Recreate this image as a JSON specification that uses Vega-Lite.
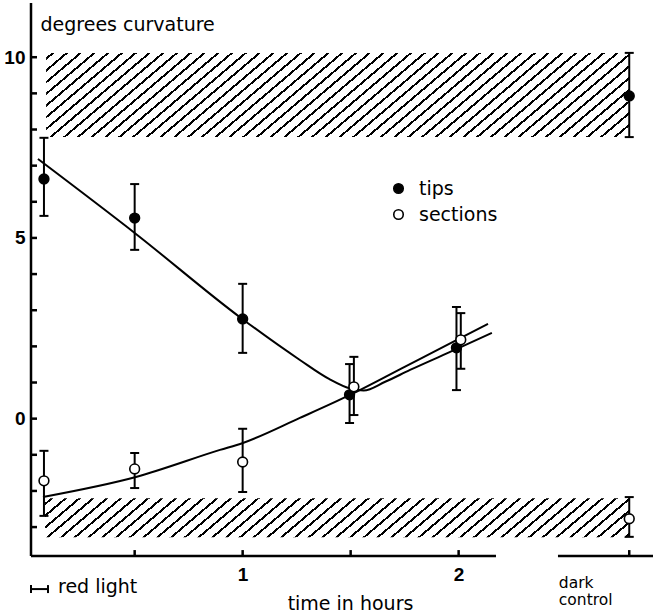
{
  "$schema": "https://vega.github.io/schema/vega-lite/v6.json",
  "width": 622,
  "height": 553,
  "autosize": {"type": "none"},
  "padding": {"left": 31, "top": 3, "right": 0, "bottom": 58},
  "background": "white",
  "config": {"view": {"stroke": null}, "font": "DejaVu Sans"},
  "datasets": {
    "bands": [
      {"band": "upper", "x1": 0.09, "x2": 2.79, "y1": 7.79, "y2": 10.12},
      {"band": "lower", "x1": 0.085, "x2": 2.79, "y1": -3.28, "y2": -2.2}
    ],
    "curves": [
      {"series": "tips", "t": 0.052, "v": 7.185},
      {"series": "tips", "t": 0.506, "v": 5.11},
      {"series": "tips", "t": 0.992, "v": 2.786},
      {"series": "tips", "t": 1.265, "v": 1.624},
      {"series": "tips", "t": 1.4, "v": 1.1},
      {"series": "tips", "t": 1.5, "v": 0.83},
      {"series": "tips", "t": 1.56, "v": 0.78},
      {"series": "tips", "t": 1.66, "v": 1.02},
      {"series": "tips", "t": 1.775, "v": 1.348},
      {"series": "tips", "t": 1.992, "v": 1.929},
      {"series": "tips", "t": 2.154, "v": 2.371},
      {"series": "sections", "t": 0.0755, "v": -2.165},
      {"series": "sections", "t": 0.506, "v": -1.612},
      {"series": "sections", "t": 0.895, "v": -0.865},
      {"series": "sections", "t": 1.001, "v": -0.672},
      {"series": "sections", "t": 1.265, "v": 0.02},
      {"series": "sections", "t": 1.497, "v": 0.656},
      {"series": "sections", "t": 1.75, "v": 1.434},
      {"series": "sections", "t": 1.992, "v": 2.178},
      {"series": "sections", "t": 2.136, "v": 2.62}
    ],
    "points": [
      {"series": "tips", "t": 0.08, "v": 6.63, "lo": 5.61, "hi": 7.77},
      {"series": "tips", "t": 0.5, "v": 5.55, "lo": 4.67, "hi": 6.49},
      {"series": "tips", "t": 1.0, "v": 2.76, "lo": 1.82, "hi": 3.73},
      {"series": "tips", "t": 1.495, "v": 0.66, "lo": -0.12, "hi": 1.51},
      {"series": "tips", "t": 1.99, "v": 1.96, "lo": 0.79, "hi": 3.09},
      {"series": "tips", "t": 2.79, "v": 8.93, "lo": 7.79, "hi": 10.12},
      {"series": "sections", "t": 0.08, "v": -1.72, "lo": -2.69, "hi": -0.89},
      {"series": "sections", "t": 0.5, "v": -1.39, "lo": -1.92, "hi": -0.95},
      {"series": "sections", "t": 1.0, "v": -1.2, "lo": -2.03, "hi": -0.28},
      {"series": "sections", "t": 1.515, "v": 0.88, "lo": 0.1, "hi": 1.71},
      {"series": "sections", "t": 2.01, "v": 2.18, "lo": 1.38, "hi": 2.92},
      {"series": "sections", "t": 2.79, "v": -2.77, "lo": -3.27, "hi": -2.17}
    ],
    "axisSegments": [
      {"from": 0.02, "to": 2.173},
      {"from": 2.46, "to": 2.9}
    ],
    "yAxisLine": [{"t": 0.02, "from": -3.8, "to": 11.5}],
    "yTicks": [{"v": -3}, {"v": -2}, {"v": -1}, {"v": 0}, {"v": 1}, {"v": 2}, {"v": 3}, {"v": 4}, {"v": 5}, {"v": 6}, {"v": 7}, {"v": 8}, {"v": 9}, {"v": 10}],
    "xTicks": [{"t": 0.5}, {"t": 1}, {"t": 1.5}, {"t": 2}, {"t": 2.79}],
    "redLight": [{"start": 0.02, "end": 0.0986, "v": -4.715}],
    "notes": [
      {"kind": "red", "label": "red  light", "t": 0.145, "v": -4.82},
      {"kind": "dark", "label": ["dark", "control"], "t": 2.464, "v": -4.68}
    ]
  },
  "layer": [
    {
      "data": {"name": "bands"},
      "transform": [{"filter": "datum.band == 'upper'"}],
      "mark": {
        "type": "rect",
        "stroke": null,
        "fill": {
          "gradient": "linear", "x1": 0, "y1": 0, "x2": 1.137, "y2": 0.1931,
          "stops": [
            {"offset": 0, "color": "#fff"},
            {"offset": 0.0080, "color": "#fff"}, {"offset": 0.0080, "color": "#000"}, {"offset": 0.0125, "color": "#000"}, {"offset": 0.0125, "color": "#fff"},
            {"offset": 0.0282, "color": "#fff"}, {"offset": 0.0282, "color": "#000"}, {"offset": 0.0327, "color": "#000"}, {"offset": 0.0327, "color": "#fff"},
            {"offset": 0.0484, "color": "#fff"}, {"offset": 0.0484, "color": "#000"}, {"offset": 0.0529, "color": "#000"}, {"offset": 0.0529, "color": "#fff"},
            {"offset": 0.0685, "color": "#fff"}, {"offset": 0.0685, "color": "#000"}, {"offset": 0.0730, "color": "#000"}, {"offset": 0.0730, "color": "#fff"},
            {"offset": 0.0887, "color": "#fff"}, {"offset": 0.0887, "color": "#000"}, {"offset": 0.0932, "color": "#000"}, {"offset": 0.0932, "color": "#fff"},
            {"offset": 0.1089, "color": "#fff"}, {"offset": 0.1089, "color": "#000"}, {"offset": 0.1134, "color": "#000"}, {"offset": 0.1134, "color": "#fff"},
            {"offset": 0.1291, "color": "#fff"}, {"offset": 0.1291, "color": "#000"}, {"offset": 0.1336, "color": "#000"}, {"offset": 0.1336, "color": "#fff"},
            {"offset": 0.1493, "color": "#fff"}, {"offset": 0.1493, "color": "#000"}, {"offset": 0.1538, "color": "#000"}, {"offset": 0.1538, "color": "#fff"},
            {"offset": 0.1694, "color": "#fff"}, {"offset": 0.1694, "color": "#000"}, {"offset": 0.1739, "color": "#000"}, {"offset": 0.1739, "color": "#fff"},
            {"offset": 0.1896, "color": "#fff"}, {"offset": 0.1896, "color": "#000"}, {"offset": 0.1941, "color": "#000"}, {"offset": 0.1941, "color": "#fff"},
            {"offset": 0.2098, "color": "#fff"}, {"offset": 0.2098, "color": "#000"}, {"offset": 0.2143, "color": "#000"}, {"offset": 0.2143, "color": "#fff"},
            {"offset": 0.2300, "color": "#fff"}, {"offset": 0.2300, "color": "#000"}, {"offset": 0.2345, "color": "#000"}, {"offset": 0.2345, "color": "#fff"},
            {"offset": 0.2502, "color": "#fff"}, {"offset": 0.2502, "color": "#000"}, {"offset": 0.2547, "color": "#000"}, {"offset": 0.2547, "color": "#fff"},
            {"offset": 0.2703, "color": "#fff"}, {"offset": 0.2703, "color": "#000"}, {"offset": 0.2748, "color": "#000"}, {"offset": 0.2748, "color": "#fff"},
            {"offset": 0.2905, "color": "#fff"}, {"offset": 0.2905, "color": "#000"}, {"offset": 0.2950, "color": "#000"}, {"offset": 0.2950, "color": "#fff"},
            {"offset": 0.3107, "color": "#fff"}, {"offset": 0.3107, "color": "#000"}, {"offset": 0.3152, "color": "#000"}, {"offset": 0.3152, "color": "#fff"},
            {"offset": 0.3309, "color": "#fff"}, {"offset": 0.3309, "color": "#000"}, {"offset": 0.3354, "color": "#000"}, {"offset": 0.3354, "color": "#fff"},
            {"offset": 0.3511, "color": "#fff"}, {"offset": 0.3511, "color": "#000"}, {"offset": 0.3556, "color": "#000"}, {"offset": 0.3556, "color": "#fff"},
            {"offset": 0.3712, "color": "#fff"}, {"offset": 0.3712, "color": "#000"}, {"offset": 0.3757, "color": "#000"}, {"offset": 0.3757, "color": "#fff"},
            {"offset": 0.3914, "color": "#fff"}, {"offset": 0.3914, "color": "#000"}, {"offset": 0.3959, "color": "#000"}, {"offset": 0.3959, "color": "#fff"},
            {"offset": 0.4116, "color": "#fff"}, {"offset": 0.4116, "color": "#000"}, {"offset": 0.4161, "color": "#000"}, {"offset": 0.4161, "color": "#fff"},
            {"offset": 0.4318, "color": "#fff"}, {"offset": 0.4318, "color": "#000"}, {"offset": 0.4363, "color": "#000"}, {"offset": 0.4363, "color": "#fff"},
            {"offset": 0.4520, "color": "#fff"}, {"offset": 0.4520, "color": "#000"}, {"offset": 0.4565, "color": "#000"}, {"offset": 0.4565, "color": "#fff"},
            {"offset": 0.4721, "color": "#fff"}, {"offset": 0.4721, "color": "#000"}, {"offset": 0.4766, "color": "#000"}, {"offset": 0.4766, "color": "#fff"},
            {"offset": 0.4923, "color": "#fff"}, {"offset": 0.4923, "color": "#000"}, {"offset": 0.4968, "color": "#000"}, {"offset": 0.4968, "color": "#fff"},
            {"offset": 0.5125, "color": "#fff"}, {"offset": 0.5125, "color": "#000"}, {"offset": 0.5170, "color": "#000"}, {"offset": 0.5170, "color": "#fff"},
            {"offset": 0.5327, "color": "#fff"}, {"offset": 0.5327, "color": "#000"}, {"offset": 0.5372, "color": "#000"}, {"offset": 0.5372, "color": "#fff"},
            {"offset": 0.5529, "color": "#fff"}, {"offset": 0.5529, "color": "#000"}, {"offset": 0.5574, "color": "#000"}, {"offset": 0.5574, "color": "#fff"},
            {"offset": 0.5730, "color": "#fff"}, {"offset": 0.5730, "color": "#000"}, {"offset": 0.5775, "color": "#000"}, {"offset": 0.5775, "color": "#fff"},
            {"offset": 0.5932, "color": "#fff"}, {"offset": 0.5932, "color": "#000"}, {"offset": 0.5977, "color": "#000"}, {"offset": 0.5977, "color": "#fff"},
            {"offset": 0.6134, "color": "#fff"}, {"offset": 0.6134, "color": "#000"}, {"offset": 0.6179, "color": "#000"}, {"offset": 0.6179, "color": "#fff"},
            {"offset": 0.6336, "color": "#fff"}, {"offset": 0.6336, "color": "#000"}, {"offset": 0.6381, "color": "#000"}, {"offset": 0.6381, "color": "#fff"},
            {"offset": 0.6538, "color": "#fff"}, {"offset": 0.6538, "color": "#000"}, {"offset": 0.6583, "color": "#000"}, {"offset": 0.6583, "color": "#fff"},
            {"offset": 0.6739, "color": "#fff"}, {"offset": 0.6739, "color": "#000"}, {"offset": 0.6784, "color": "#000"}, {"offset": 0.6784, "color": "#fff"},
            {"offset": 0.6941, "color": "#fff"}, {"offset": 0.6941, "color": "#000"}, {"offset": 0.6986, "color": "#000"}, {"offset": 0.6986, "color": "#fff"},
            {"offset": 0.7143, "color": "#fff"}, {"offset": 0.7143, "color": "#000"}, {"offset": 0.7188, "color": "#000"}, {"offset": 0.7188, "color": "#fff"},
            {"offset": 0.7345, "color": "#fff"}, {"offset": 0.7345, "color": "#000"}, {"offset": 0.7390, "color": "#000"}, {"offset": 0.7390, "color": "#fff"},
            {"offset": 0.7547, "color": "#fff"}, {"offset": 0.7547, "color": "#000"}, {"offset": 0.7592, "color": "#000"}, {"offset": 0.7592, "color": "#fff"},
            {"offset": 0.7748, "color": "#fff"}, {"offset": 0.7748, "color": "#000"}, {"offset": 0.7793, "color": "#000"}, {"offset": 0.7793, "color": "#fff"},
            {"offset": 0.7950, "color": "#fff"}, {"offset": 0.7950, "color": "#000"}, {"offset": 0.7995, "color": "#000"}, {"offset": 0.7995, "color": "#fff"},
            {"offset": 0.8152, "color": "#fff"}, {"offset": 0.8152, "color": "#000"}, {"offset": 0.8197, "color": "#000"}, {"offset": 0.8197, "color": "#fff"},
            {"offset": 0.8354, "color": "#fff"}, {"offset": 0.8354, "color": "#000"}, {"offset": 0.8399, "color": "#000"}, {"offset": 0.8399, "color": "#fff"},
            {"offset": 0.8556, "color": "#fff"}, {"offset": 0.8556, "color": "#000"}, {"offset": 0.8601, "color": "#000"}, {"offset": 0.8601, "color": "#fff"},
            {"offset": 0.8757, "color": "#fff"}, {"offset": 0.8757, "color": "#000"}, {"offset": 0.8802, "color": "#000"}, {"offset": 0.8802, "color": "#fff"},
            {"offset": 0.8959, "color": "#fff"}, {"offset": 0.8959, "color": "#000"}, {"offset": 0.9004, "color": "#000"}, {"offset": 0.9004, "color": "#fff"},
            {"offset": 0.9161, "color": "#fff"}, {"offset": 0.9161, "color": "#000"}, {"offset": 0.9206, "color": "#000"}, {"offset": 0.9206, "color": "#fff"},
            {"offset": 0.9363, "color": "#fff"}, {"offset": 0.9363, "color": "#000"}, {"offset": 0.9408, "color": "#000"}, {"offset": 0.9408, "color": "#fff"},
            {"offset": 0.9565, "color": "#fff"}, {"offset": 0.9565, "color": "#000"}, {"offset": 0.9610, "color": "#000"}, {"offset": 0.9610, "color": "#fff"},
            {"offset": 0.9766, "color": "#fff"}, {"offset": 0.9766, "color": "#000"}, {"offset": 0.9811, "color": "#000"}, {"offset": 0.9811, "color": "#fff"},
            {"offset": 1, "color": "#fff"}
          ]
        }
      },
      "encoding": {
        "x": {
          "field": "x1", "type": "quantitative",
          "scale": {"domain": [0.02, 2.9], "nice": false, "zero": false},
          "axis": {
            "orient": "bottom", "domain": false, "grid": false,
            "values": [0.5, 1, 1.5, 2, 2.79],
            "ticks": false, "tickSize": 0,
            "labelExpr": "datum.value == 1 ? '1' : datum.value == 2 ? '2' : ''",
            "labelOverlap": false, "labelFlush": false,
            "labelFont": "Liberation Sans", "labelFontWeight": 700, "labelFontSize": 19, "labelColor": "black",
            "labelPadding": 9,
            "title": "time  in  hours", "titleFont": "DejaVu Sans", "titleFontSize": 19, "titleFontWeight": "normal",
            "titleColor": "black", "titleX": 319, "titleY": 53, "titleAlign": "center", "titleBaseline": "alphabetic"
          }
        },
        "x2": {"field": "x2"},
        "y": {
          "field": "y1", "type": "quantitative",
          "scale": {"domain": [-3.8, 11.5], "nice": false, "zero": false},
          "axis": {
            "orient": "left", "grid": false, "domain": false,
            "values": [0, 5, 10],
            "ticks": false, "tickSize": 0,
            "labelOverlap": false, "labelFlush": false,
            "labelFont": "Liberation Sans", "labelFontWeight": 700, "labelFontSize": 19, "labelColor": "black",
            "labelPadding": 6,
            "title": "degrees  curvature", "titleFont": "DejaVu Sans", "titleFontSize": 19, "titleFontWeight": "normal",
            "titleColor": "black", "titleAngle": 0, "titleX": 9, "titleY": 27, "titleAlign": "left", "titleBaseline": "alphabetic"
          }
        },
        "y2": {"field": "y2"}
      }
    },
    {
      "data": {"name": "bands"},
      "transform": [{"filter": "datum.band == 'lower'"}],
      "mark": {
        "type": "rect",
        "stroke": null,
        "fill": {
          "gradient": "linear", "x1": 0, "y1": 0, "x2": 1.1604, "y2": 0.0911,
          "stops": [
            {"offset": 0, "color": "#fff"},
            {"offset": 0.0080, "color": "#fff"}, {"offset": 0.0080, "color": "#000"}, {"offset": 0.0125, "color": "#000"}, {"offset": 0.0125, "color": "#fff"},
            {"offset": 0.0282, "color": "#fff"}, {"offset": 0.0282, "color": "#000"}, {"offset": 0.0327, "color": "#000"}, {"offset": 0.0327, "color": "#fff"},
            {"offset": 0.0484, "color": "#fff"}, {"offset": 0.0484, "color": "#000"}, {"offset": 0.0529, "color": "#000"}, {"offset": 0.0529, "color": "#fff"},
            {"offset": 0.0685, "color": "#fff"}, {"offset": 0.0685, "color": "#000"}, {"offset": 0.0730, "color": "#000"}, {"offset": 0.0730, "color": "#fff"},
            {"offset": 0.0887, "color": "#fff"}, {"offset": 0.0887, "color": "#000"}, {"offset": 0.0932, "color": "#000"}, {"offset": 0.0932, "color": "#fff"},
            {"offset": 0.1089, "color": "#fff"}, {"offset": 0.1089, "color": "#000"}, {"offset": 0.1134, "color": "#000"}, {"offset": 0.1134, "color": "#fff"},
            {"offset": 0.1291, "color": "#fff"}, {"offset": 0.1291, "color": "#000"}, {"offset": 0.1336, "color": "#000"}, {"offset": 0.1336, "color": "#fff"},
            {"offset": 0.1493, "color": "#fff"}, {"offset": 0.1493, "color": "#000"}, {"offset": 0.1538, "color": "#000"}, {"offset": 0.1538, "color": "#fff"},
            {"offset": 0.1694, "color": "#fff"}, {"offset": 0.1694, "color": "#000"}, {"offset": 0.1739, "color": "#000"}, {"offset": 0.1739, "color": "#fff"},
            {"offset": 0.1896, "color": "#fff"}, {"offset": 0.1896, "color": "#000"}, {"offset": 0.1941, "color": "#000"}, {"offset": 0.1941, "color": "#fff"},
            {"offset": 0.2098, "color": "#fff"}, {"offset": 0.2098, "color": "#000"}, {"offset": 0.2143, "color": "#000"}, {"offset": 0.2143, "color": "#fff"},
            {"offset": 0.2300, "color": "#fff"}, {"offset": 0.2300, "color": "#000"}, {"offset": 0.2345, "color": "#000"}, {"offset": 0.2345, "color": "#fff"},
            {"offset": 0.2502, "color": "#fff"}, {"offset": 0.2502, "color": "#000"}, {"offset": 0.2547, "color": "#000"}, {"offset": 0.2547, "color": "#fff"},
            {"offset": 0.2703, "color": "#fff"}, {"offset": 0.2703, "color": "#000"}, {"offset": 0.2748, "color": "#000"}, {"offset": 0.2748, "color": "#fff"},
            {"offset": 0.2905, "color": "#fff"}, {"offset": 0.2905, "color": "#000"}, {"offset": 0.2950, "color": "#000"}, {"offset": 0.2950, "color": "#fff"},
            {"offset": 0.3107, "color": "#fff"}, {"offset": 0.3107, "color": "#000"}, {"offset": 0.3152, "color": "#000"}, {"offset": 0.3152, "color": "#fff"},
            {"offset": 0.3309, "color": "#fff"}, {"offset": 0.3309, "color": "#000"}, {"offset": 0.3354, "color": "#000"}, {"offset": 0.3354, "color": "#fff"},
            {"offset": 0.3511, "color": "#fff"}, {"offset": 0.3511, "color": "#000"}, {"offset": 0.3556, "color": "#000"}, {"offset": 0.3556, "color": "#fff"},
            {"offset": 0.3712, "color": "#fff"}, {"offset": 0.3712, "color": "#000"}, {"offset": 0.3757, "color": "#000"}, {"offset": 0.3757, "color": "#fff"},
            {"offset": 0.3914, "color": "#fff"}, {"offset": 0.3914, "color": "#000"}, {"offset": 0.3959, "color": "#000"}, {"offset": 0.3959, "color": "#fff"},
            {"offset": 0.4116, "color": "#fff"}, {"offset": 0.4116, "color": "#000"}, {"offset": 0.4161, "color": "#000"}, {"offset": 0.4161, "color": "#fff"},
            {"offset": 0.4318, "color": "#fff"}, {"offset": 0.4318, "color": "#000"}, {"offset": 0.4363, "color": "#000"}, {"offset": 0.4363, "color": "#fff"},
            {"offset": 0.4520, "color": "#fff"}, {"offset": 0.4520, "color": "#000"}, {"offset": 0.4565, "color": "#000"}, {"offset": 0.4565, "color": "#fff"},
            {"offset": 0.4721, "color": "#fff"}, {"offset": 0.4721, "color": "#000"}, {"offset": 0.4766, "color": "#000"}, {"offset": 0.4766, "color": "#fff"},
            {"offset": 0.4923, "color": "#fff"}, {"offset": 0.4923, "color": "#000"}, {"offset": 0.4968, "color": "#000"}, {"offset": 0.4968, "color": "#fff"},
            {"offset": 0.5125, "color": "#fff"}, {"offset": 0.5125, "color": "#000"}, {"offset": 0.5170, "color": "#000"}, {"offset": 0.5170, "color": "#fff"},
            {"offset": 0.5327, "color": "#fff"}, {"offset": 0.5327, "color": "#000"}, {"offset": 0.5372, "color": "#000"}, {"offset": 0.5372, "color": "#fff"},
            {"offset": 0.5529, "color": "#fff"}, {"offset": 0.5529, "color": "#000"}, {"offset": 0.5574, "color": "#000"}, {"offset": 0.5574, "color": "#fff"},
            {"offset": 0.5730, "color": "#fff"}, {"offset": 0.5730, "color": "#000"}, {"offset": 0.5775, "color": "#000"}, {"offset": 0.5775, "color": "#fff"},
            {"offset": 0.5932, "color": "#fff"}, {"offset": 0.5932, "color": "#000"}, {"offset": 0.5977, "color": "#000"}, {"offset": 0.5977, "color": "#fff"},
            {"offset": 0.6134, "color": "#fff"}, {"offset": 0.6134, "color": "#000"}, {"offset": 0.6179, "color": "#000"}, {"offset": 0.6179, "color": "#fff"},
            {"offset": 0.6336, "color": "#fff"}, {"offset": 0.6336, "color": "#000"}, {"offset": 0.6381, "color": "#000"}, {"offset": 0.6381, "color": "#fff"},
            {"offset": 0.6538, "color": "#fff"}, {"offset": 0.6538, "color": "#000"}, {"offset": 0.6583, "color": "#000"}, {"offset": 0.6583, "color": "#fff"},
            {"offset": 0.6739, "color": "#fff"}, {"offset": 0.6739, "color": "#000"}, {"offset": 0.6784, "color": "#000"}, {"offset": 0.6784, "color": "#fff"},
            {"offset": 0.6941, "color": "#fff"}, {"offset": 0.6941, "color": "#000"}, {"offset": 0.6986, "color": "#000"}, {"offset": 0.6986, "color": "#fff"},
            {"offset": 0.7143, "color": "#fff"}, {"offset": 0.7143, "color": "#000"}, {"offset": 0.7188, "color": "#000"}, {"offset": 0.7188, "color": "#fff"},
            {"offset": 0.7345, "color": "#fff"}, {"offset": 0.7345, "color": "#000"}, {"offset": 0.7390, "color": "#000"}, {"offset": 0.7390, "color": "#fff"},
            {"offset": 0.7547, "color": "#fff"}, {"offset": 0.7547, "color": "#000"}, {"offset": 0.7592, "color": "#000"}, {"offset": 0.7592, "color": "#fff"},
            {"offset": 0.7748, "color": "#fff"}, {"offset": 0.7748, "color": "#000"}, {"offset": 0.7793, "color": "#000"}, {"offset": 0.7793, "color": "#fff"},
            {"offset": 0.7950, "color": "#fff"}, {"offset": 0.7950, "color": "#000"}, {"offset": 0.7995, "color": "#000"}, {"offset": 0.7995, "color": "#fff"},
            {"offset": 0.8152, "color": "#fff"}, {"offset": 0.8152, "color": "#000"}, {"offset": 0.8197, "color": "#000"}, {"offset": 0.8197, "color": "#fff"},
            {"offset": 0.8354, "color": "#fff"}, {"offset": 0.8354, "color": "#000"}, {"offset": 0.8399, "color": "#000"}, {"offset": 0.8399, "color": "#fff"},
            {"offset": 0.8556, "color": "#fff"}, {"offset": 0.8556, "color": "#000"}, {"offset": 0.8601, "color": "#000"}, {"offset": 0.8601, "color": "#fff"},
            {"offset": 0.8757, "color": "#fff"}, {"offset": 0.8757, "color": "#000"}, {"offset": 0.8802, "color": "#000"}, {"offset": 0.8802, "color": "#fff"},
            {"offset": 0.8959, "color": "#fff"}, {"offset": 0.8959, "color": "#000"}, {"offset": 0.9004, "color": "#000"}, {"offset": 0.9004, "color": "#fff"},
            {"offset": 0.9161, "color": "#fff"}, {"offset": 0.9161, "color": "#000"}, {"offset": 0.9206, "color": "#000"}, {"offset": 0.9206, "color": "#fff"},
            {"offset": 0.9363, "color": "#fff"}, {"offset": 0.9363, "color": "#000"}, {"offset": 0.9408, "color": "#000"}, {"offset": 0.9408, "color": "#fff"},
            {"offset": 1, "color": "#fff"}
          ]
        }
      },
      "encoding": {
        "x": {"field": "x1", "type": "quantitative"},
        "x2": {"field": "x2"},
        "y": {"field": "y1", "type": "quantitative"},
        "y2": {"field": "y2"}
      }
    },
    {
      "data": {"name": "axisSegments"},
      "mark": {"type": "rule", "color": "black", "strokeWidth": 2.5},
      "encoding": {
        "x": {"field": "from", "type": "quantitative"},
        "x2": {"field": "to"},
        "y": {"datum": -3.8, "type": "quantitative"}
      }
    },
    {
      "data": {"name": "yAxisLine"},
      "mark": {"type": "rule", "color": "black", "strokeWidth": 2.5},
      "encoding": {
        "x": {"field": "t", "type": "quantitative"},
        "y": {"field": "from", "type": "quantitative"},
        "y2": {"field": "to"}
      }
    },
    {
      "data": {"name": "yTicks"},
      "mark": {"type": "tick", "orient": "horizontal", "color": "black", "size": 6, "thickness": 2.5, "opacity": 1},
      "encoding": {
        "x": {"datum": 0.034, "type": "quantitative"},
        "y": {"field": "v", "type": "quantitative"}
      }
    },
    {
      "data": {"name": "xTicks"},
      "mark": {"type": "tick", "orient": "vertical", "color": "black", "size": 6, "thickness": 2.5, "opacity": 1},
      "encoding": {
        "x": {"field": "t", "type": "quantitative"},
        "y": {"datum": -3.719, "type": "quantitative"}
      }
    },
    {
      "data": {"name": "curves"},
      "mark": {"type": "line", "color": "black", "strokeWidth": 2, "interpolate": "monotone"},
      "encoding": {
        "x": {"field": "t", "type": "quantitative"},
        "y": {"field": "v", "type": "quantitative"},
        "detail": {"field": "series", "type": "nominal"}
      }
    },
    {
      "data": {"name": "points"},
      "mark": {"type": "rule", "color": "black", "strokeWidth": 2},
      "encoding": {
        "x": {"field": "t", "type": "quantitative"},
        "y": {"field": "lo", "type": "quantitative"},
        "y2": {"field": "hi"}
      }
    },
    {
      "data": {"name": "points"},
      "mark": {"type": "tick", "orient": "horizontal", "color": "black", "size": 9, "thickness": 2, "opacity": 1},
      "encoding": {
        "x": {"field": "t", "type": "quantitative"},
        "y": {"field": "lo", "type": "quantitative"}
      }
    },
    {
      "data": {"name": "points"},
      "mark": {"type": "tick", "orient": "horizontal", "color": "black", "size": 9, "thickness": 2, "opacity": 1},
      "encoding": {
        "x": {"field": "t", "type": "quantitative"},
        "y": {"field": "hi", "type": "quantitative"}
      }
    },
    {
      "data": {"name": "points"},
      "mark": {"type": "point", "shape": "circle", "filled": true, "stroke": "black", "strokeWidth": 1.6, "size": 95, "opacity": 1},
      "encoding": {
        "x": {"field": "t", "type": "quantitative"},
        "y": {"field": "v", "type": "quantitative"},
        "fill": {
          "field": "series", "type": "nominal",
          "scale": {"domain": ["tips", "sections"], "range": ["black", "white"]},
          "legend": {
            "orient": "none", "legendX": 358, "legendY": 176, "title": null, "padding": 0,
            "symbolType": "circle", "symbolSize": 90, "symbolStrokeColor": "black", "symbolStrokeWidth": 1.6,
            "labelFont": "DejaVu Sans", "labelFontSize": 19, "labelColor": "black", "labelOffset": 11,
            "rowPadding": 6
          }
        }
      }
    },
    {
      "data": {"name": "redLight"},
      "mark": {"type": "rule", "color": "black", "strokeWidth": 2},
      "encoding": {
        "x": {"field": "start", "type": "quantitative"},
        "x2": {"field": "end"},
        "y": {"field": "v", "type": "quantitative"}
      }
    },
    {
      "data": {"name": "redLight"},
      "mark": {"type": "tick", "orient": "vertical", "color": "black", "size": 8, "thickness": 2, "opacity": 1},
      "encoding": {
        "x": {"field": "start", "type": "quantitative"},
        "y": {"field": "v", "type": "quantitative"}
      }
    },
    {
      "data": {"name": "redLight"},
      "mark": {"type": "tick", "orient": "vertical", "color": "black", "size": 8, "thickness": 2, "opacity": 1},
      "encoding": {
        "x": {"field": "end", "type": "quantitative"},
        "y": {"field": "v", "type": "quantitative"}
      }
    },
    {
      "data": {"name": "notes"},
      "transform": [{"filter": "datum.kind == 'red'"}],
      "mark": {"type": "text", "align": "left", "baseline": "alphabetic", "font": "DejaVu Sans", "fontSize": 19, "color": "black"},
      "encoding": {
        "x": {"field": "t", "type": "quantitative"},
        "y": {"field": "v", "type": "quantitative"},
        "text": {"field": "label"}
      }
    },
    {
      "data": {"name": "notes"},
      "transform": [{"filter": "datum.kind == 'dark'"}],
      "mark": {"type": "text", "align": "left", "baseline": "alphabetic", "font": "DejaVu Sans", "fontSize": 15.5, "lineHeight": 17, "color": "black"},
      "encoding": {
        "x": {"field": "t", "type": "quantitative"},
        "y": {"field": "v", "type": "quantitative"},
        "text": {"field": "label"}
      }
    }
  ]
}
